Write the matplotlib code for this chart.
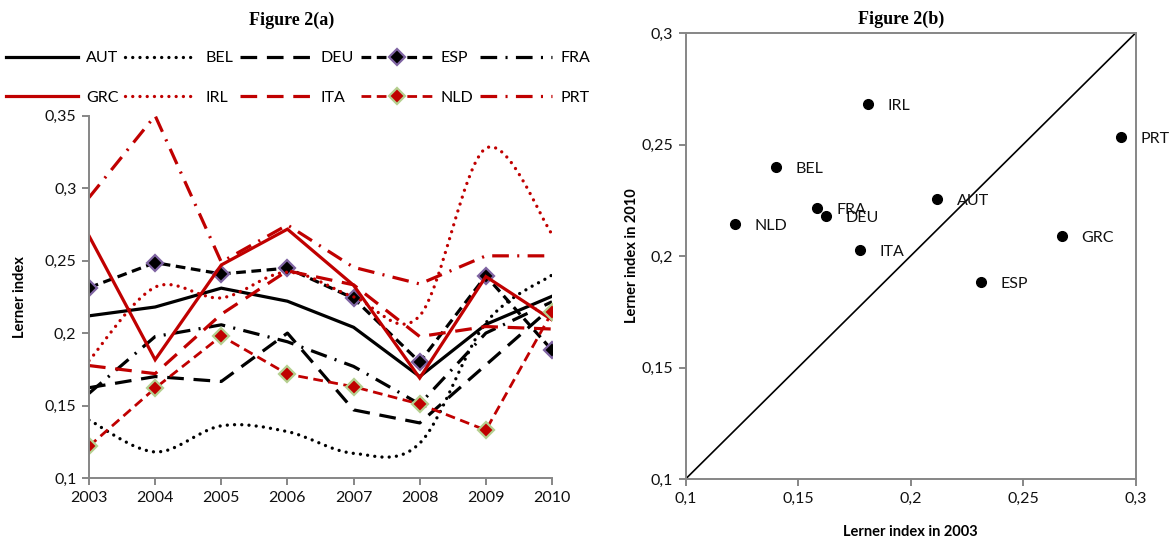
import numpy as np
import matplotlib
matplotlib.use("Agg")
import matplotlib.pyplot as plt
from matplotlib.lines import Line2D
from matplotlib.path import Path
from matplotlib.patches import PathPatch
from matplotlib.ticker import FuncFormatter

plt.rcParams['lines.scale_dashes'] = False
plt.rcParams['font.family'] = ['Lato', 'DejaVu Sans']

# ---------------- data ----------------
years = [2003, 2004, 2005, 2006, 2007, 2008, 2009, 2010]
countries = ['AUT', 'BEL', 'DEU', 'ESP', 'FRA', 'GRC', 'IRL', 'ITA', 'NLD', 'PRT']

aut = [0.2119, 0.218, 0.231, 0.222, 0.204, 0.170, 0.206, 0.2254]
bel = [0.1400, 0.118, 0.136, 0.132, 0.117, 0.124, 0.207, 0.2401]
deu = [0.1623, 0.170, 0.1666, 0.200, 0.147, 0.138, 0.178, 0.2180]
esp = [0.2313, 0.2486, 0.2408, 0.2448, 0.224, 0.180, 0.2395, 0.1882]
fra = [0.1584, 0.1976, 0.2057, 0.194, 0.177, 0.151, 0.200, 0.2216]
grc = [0.2671, 0.1816, 0.247, 0.2717, 0.233, 0.169, 0.239, 0.2091]
irl = [0.1810, 0.2317, 0.2243, 0.242, 0.225, 0.212, 0.3275, 0.2683]
ita = [0.1776, 0.172, 0.213, 0.243, 0.2333, 0.1976, 0.2045, 0.2028]
nld = [0.1219, 0.162, 0.198, 0.1717, 0.163, 0.151, 0.133, 0.2144]
prt = [0.2935, 0.350, 0.249, 0.2746, 0.2454, 0.2339, 0.2533, 0.2533]

series = [aut, bel, deu, esp, fra, grc, irl, ita, nld, prt]

# scatter: 2003 vs 2010
lerner_2003 = [s[0] for s in series]
lerner_2010 = [s[-1] for s in series]

# ---------------- styles ----------------
BLACK = '#000000'
RED = '#C00000'
GRAY = '#868686'
PURPLE = '#7F64A2'
GREEN = '#B5CF8F'

LONG_DASH = (0, (12, 7))
SHORT_DASH = (0, (7, 4))
DASH_DOT = (0, (12, 6, 1.5, 6))
DOTS = (0, (0.01, 5.2))

styles = {
    'AUT': dict(color=BLACK, ls='-', lw=2.3),
    'BEL': dict(color=BLACK, ls=DOTS, lw=2.4, smooth=True, round=True),
    'DEU': dict(color=BLACK, ls=LONG_DASH, lw=2.3),
    'ESP': dict(color=BLACK, ls=SHORT_DASH, lw=2.3, marker='D', mfc=BLACK, mec=PURPLE),
    'FRA': dict(color=BLACK, ls=DASH_DOT, lw=2.3),
    'GRC': dict(color=RED, ls='-', lw=2.3),
    'IRL': dict(color=RED, ls=DOTS, lw=2.4, smooth=True, round=True),
    'ITA': dict(color=RED, ls=LONG_DASH, lw=2.3),
    'NLD': dict(color=RED, ls=SHORT_DASH, lw=2.0, marker='D', mfc=RED, mec=GREEN),
    'PRT': dict(color=RED, ls=DASH_DOT, lw=2.3),
}


def smooth_path(x, y):
    pts = np.column_stack([x, y]).astype(float)
    n = len(pts)
    verts = [pts[0]]
    codes = [Path.MOVETO]
    for i in range(n - 1):
        p0 = pts[i - 1] if i > 0 else pts[i]
        p1 = pts[i]
        p2 = pts[i + 1]
        p3 = pts[i + 2] if i + 2 < n else pts[i + 1]
        c1 = p1 + (p2 - p0) / 6.0
        c2 = p2 - (p3 - p1) / 6.0
        verts += [c1, c2, p2]
        codes += [Path.CURVE4] * 3
    return Path(verts, codes)


comma = FuncFormatter(lambda v, p: ('%g' % round(v, 3)).replace('.', ','))

W, H = 1169, 543
fig = plt.figure(figsize=(W / 100, H / 100), dpi=100)

# ---------------- left panel ----------------
axL = fig.add_axes([89 / W, 1 - 478 / H, (552 - 89) / W, (478 - 115.7) / H])
handles = {}
for name, vals in zip(countries, series):
    st = styles[name]
    cap = 'round' if st.get('round') else 'butt'
    if st.get('smooth'):
        patch = PathPatch(smooth_path(years, vals), fill=False, edgecolor=st['color'],
                          lw=st['lw'], linestyle=st['ls'], capstyle=cap, joinstyle='round',
                          zorder=2)
        axL.add_patch(patch)
    else:
        axL.plot(years, vals, color=st['color'], lw=st['lw'], linestyle=st['ls'],
                 dash_capstyle=cap, solid_joinstyle='miter', zorder=2,
                 marker=st.get('marker', None), markersize=8.5,
                 markerfacecolor=st.get('mfc'), markeredgecolor=st.get('mec'),
                 markeredgewidth=1.6)
    handles[name] = Line2D([], [], color=st['color'], lw=st['lw'], linestyle=st['ls'],
                           dash_capstyle=cap, marker=st.get('marker', None), markersize=8,
                           markerfacecolor=st.get('mfc'), markeredgecolor=st.get('mec'),
                           markeredgewidth=1.6)

axL.set_xlim(2003, 2010)
axL.set_ylim(0.1, 0.35)
axL.set_xticks(years)
axL.set_yticks([0.1, 0.15, 0.2, 0.25, 0.3, 0.35])
axL.yaxis.set_major_formatter(comma)
for s in ['top', 'right']:
    axL.spines[s].set_visible(False)
for s in ['left', 'bottom']:
    axL.spines[s].set_color(GRAY)
    axL.spines[s].set_linewidth(1.4)
axL.tick_params(axis='both', direction='out', length=5, width=1.4, color=GRAY,
                labelsize=11.5, labelcolor='#111111', pad=4)
axL.set_ylabel('Lerner index', fontsize=10.5, fontweight='bold')
axL.yaxis.set_label_coords(-0.134, 0.5)

order = ['AUT', 'GRC', 'BEL', 'IRL', 'DEU', 'ITA', 'ESP', 'NLD', 'FRA', 'PRT']
fig.legend([handles[c] for c in order], order, loc='lower left',
           bbox_to_anchor=(6 / W, 1 - 105 / H, 584 / W, 70 / H), mode='expand',
           ncol=5, frameon=False, fontsize=11.5, handlelength=4.5, handletextpad=0.5,
           labelspacing=1.6, borderaxespad=0, borderpad=0)

fig.text(292 / W, 1 - 20 / H, 'Figure 2(a)', ha='center', va='center',
         family=['Liberation Serif'], fontweight='bold', fontsize=13)

# ---------------- right panel ----------------
axR = fig.add_axes([685.6 / W, 1 - 479 / H, (1135.6 - 685.6) / W, (479 - 33) / H])
axR.plot([0.1, 0.3], [0.1, 0.3], color=BLACK, lw=1.2, zorder=1)
axR.plot(lerner_2003, lerner_2010, linestyle='none', marker='o', markersize=7,
         color=BLACK, zorder=3)
for name, xv, yv in zip(countries, lerner_2003, lerner_2010):
    axR.annotate(name, (xv, yv), xytext=(14, -1.5), textcoords='offset points',
                 ha='left', va='center', fontsize=11.5, color='#111111', zorder=4)
axR.set_xlim(0.1, 0.3)
axR.set_ylim(0.1, 0.3)
ticks = [0.1, 0.15, 0.2, 0.25, 0.3]
axR.set_xticks(ticks)
axR.set_yticks(ticks)
axR.xaxis.set_major_formatter(comma)
axR.yaxis.set_major_formatter(comma)
for s in axR.spines.values():
    s.set_color(GRAY)
    s.set_linewidth(1.4)
axR.tick_params(axis='both', direction='out', length=5, width=1.4, color=GRAY,
                labelsize=11.5, labelcolor='#111111', pad=4)
axR.set_xlabel('Lerner index in 2003', fontsize=10.5, fontweight='bold')
axR.xaxis.set_label_coords(0.5, -0.103)
axR.set_ylabel('Lerner index in 2010', fontsize=10.5, fontweight='bold')
axR.yaxis.set_label_coords(-0.104, 0.5)

fig.text(901 / W, 1 - 19 / H, 'Figure 2(b)', ha='center', va='center',
         family=['Liberation Serif'], fontweight='bold', fontsize=13)

fig.savefig('out.png', dpi=100)
